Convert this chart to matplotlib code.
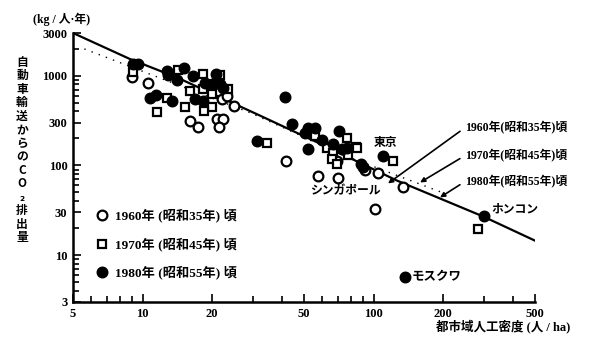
import matplotlib
matplotlib.use("Agg")
import matplotlib.pyplot as plt
from matplotlib.ticker import FixedLocator, FixedFormatter, NullFormatter

plt.rcParams['font.family'] = ['Noto Sans CJK JP', 'DejaVu Sans']

# 都市域人工密度 (人/ha) と 自動車輸送からのCO2排出量 (kg/人・年)
dens_1960 = [9.0, 10.6, 16.0, 17.4, 21.0, 22.3, 21.4, 22.1, 23.2, 24.9,
             41.8, 57.5, 70.2, 69.5, 91.8, 105, 134, 101]
co2_1960 = [973, 835, 316, 271, 332, 332, 271, 554, 599, 464,
            113, 77, 73, 113, 88, 83, 58, 33]

dens_1970 = [9.1, 12.8, 11.5, 14.3, 16.0, 15.3, 18.3, 18.3, 20.0, 20.0,
             18.5, 21.6, 23.4, 34.6, 55.8, 62.9, 66.8, 66.1, 69.5, 76.7,
             84.0, 77.5, 84.8, 121, 283]
co2_1970 = [1106, 569, 398, 1164, 680, 450, 1051, 716, 630, 445,
            410, 1024, 716, 180, 215, 158, 139, 119, 105, 204,
            162, 132, 158, 111, 19.5]

dens_1980 = [9.1, 9.55, 10.8, 11.4, 13.4, 12.8, 12.9, 14.1, 15.1, 16.5,
             18.6, 20.8, 20.0, 21.6, 16.9, 18.3, 22.3, 31.3, 41.4, 44.4,
             52.0, 55.8, 50.5, 59.8, 70.9, 66.8, 73.0, 76.7, 52.0, 88.0,
             90.0, 110, 301, 137]
co2_1980 = [1357, 1357, 569, 614, 527, 1135, 1024, 901, 1225, 998,
            835, 1051, 814, 800, 554, 527, 735, 189, 583, 292,
            264, 264, 232, 194, 245, 175, 154, 158, 152, 105,
            95, 129, 27, 5.7]

# 回帰線 (1980年頃, 実線) と 1970年頃 (点線)
line80_dens = [5, 8.8, 14.2, 32.3, 59.8, 126, 298, 500]
line80_co2 = [3000, 1542, 949, 359, 171, 68, 27, 14.5]
line70_dens = [5.6, 29.2, 79.1, 194]
line70_co2 = [1993, 388, 122, 51]

# 都市名
city_names = ['東京', 'シンガポール', 'ホンコン', 'モスクワ']
city_dens = [110, 75.2, 301, 137]
city_co2 = [129, 52.7, 27, 5.7]

year_labels = ['1960年 (昭和35年) 頃', '1970年 (昭和45年) 頃', '1980年 (昭和55年) 頃']
line_labels = ['1960年(昭和35年)頃', '1970年(昭和45年)頃', '1980年(昭和55年)頃']
line_label_pos = [(249, 264), (249, 129), (249, 66.3)]
line_arrow_tip = [(115.5, 63), (159, 64.6), (194, 44)]

x_major = [5, 10, 20, 50, 100, 200, 500]
x_minor = [6, 7, 8, 9, 30, 40, 60, 70, 80, 90, 300, 400]
y_major = [3, 10, 30, 100, 300, 1000, 3000]
y_minor = [4, 5, 6, 7, 8, 9, 20, 40, 50, 60, 70, 80, 90,
           200, 400, 500, 600, 700, 800, 900, 2000]

num_font = ['Liberation Serif', 'Noto Sans CJK JP']

fig = plt.figure(figsize=(6.0, 3.39), dpi=100)
ax = fig.add_axes([73 / 600, 37 / 339, 462 / 600, 269 / 339])
ax.set_xscale('log')
ax.set_yscale('log')
ax.set_xlim(5, 500)
ax.set_ylim(3, 3000)

for s in ['top', 'right']:
    ax.spines[s].set_visible(False)
for s in ['left', 'bottom']:
    ax.spines[s].set_linewidth(1.8)

ax.xaxis.set_major_locator(FixedLocator(x_major))
ax.xaxis.set_major_formatter(FixedFormatter([str(v) for v in x_major]))
ax.xaxis.set_minor_locator(FixedLocator(x_minor))
ax.xaxis.set_minor_formatter(NullFormatter())
ax.yaxis.set_major_locator(FixedLocator(y_major))
ax.yaxis.set_major_formatter(FixedFormatter([str(v) for v in y_major]))
ax.yaxis.set_minor_locator(FixedLocator(y_minor))
ax.yaxis.set_minor_formatter(NullFormatter())
ax.tick_params(which='both', direction='in', width=1.2, color='black')
ax.tick_params(which='major', length=6, pad=4)
ax.tick_params(which='minor', length=4)
for lab in ax.get_xticklabels() + ax.get_yticklabels():
    lab.set_fontfamily(num_font)
    lab.set_fontweight('bold')
    lab.set_fontsize(9)

ax.plot(line80_dens, line80_co2, color='black', lw=1.6, zorder=2)
ax.plot(line70_dens, line70_co2, color='black', lw=1.0, ls=(0, (1, 4.5)), zorder=1)

ms = 7.0
h60, = ax.plot(dens_1960, co2_1960, 'o', ms=ms, mfc='white', mec='black', mew=1.6,
               ls='none', zorder=3)
h70, = ax.plot(dens_1970, co2_1970, 's', ms=ms - 0.6, mfc='white', mec='black', mew=1.6,
               ls='none', zorder=4)
h80, = ax.plot(dens_1980, co2_1980, 'o', ms=ms + 0.6, mfc='black', mec='black', mew=1.0,
               ls='none', zorder=5)

leg = ax.legend([h60, h70, h80], year_labels, loc='lower left',
                bbox_to_anchor=(0.038, 0.063), frameon=False, handlelength=1.0,
                handletextpad=0.45, labelspacing=1.12, borderaxespad=0,
                prop={'family': ['Liberation Serif', 'Noto Sans CJK JP'],
                      'weight': 'bold', 'size': 9.5})

# 都市名
ax.text(city_dens[0] + 3, city_co2[0] * 1.18, city_names[0], ha='center', va='bottom',
        fontsize=8.5, fontweight='bold')
ax.text(city_dens[1], city_co2[1], city_names[1], ha='center', va='center',
        fontsize=8.5, fontweight='bold')
ax.annotate(city_names[2], (city_dens[2], city_co2[2]), xytext=(5, 5.5),
            textcoords='offset points', ha='left', va='center',
            fontsize=8.5, fontweight='bold')
ax.annotate(city_names[3], (city_dens[3], city_co2[3]), xytext=(5, 0),
            textcoords='offset points', ha='left', va='center',
            fontsize=9, fontweight='bold')

for lab, pos, tip in zip(line_labels, line_label_pos, line_arrow_tip):
    ax.annotate(lab, xy=tip, xytext=pos, ha='left', va='center',
                fontsize=8.5, fontweight='bold',
                family=['Liberation Serif', 'Noto Sans CJK JP'],
                arrowprops=dict(arrowstyle='-|>', color='black', lw=1.2,
                                mutation_scale=7, relpos=(0, 0.5),
                                shrinkA=2, shrinkB=0),
                zorder=6)

# 軸ラベル
fig.text(33 / 600, 1 - 19 / 339, '(kg / 人·年)', ha='left', va='center',
         fontsize=8.5, fontweight='bold',
         family=['Liberation Serif', 'Noto Sans CJK JP'])
chars = list('自動車輸送からの') + ['C', 'O', '₂'] + list('排出量')
fig.text(22 / 600, 1 - 150 / 339, '\n'.join(chars), ha='center', va='center',
         fontsize=8.5, fontweight='bold', linespacing=1.05,
         family=['Noto Sans CJK JP', 'DejaVu Sans'])
fig.text(570 / 600, 1 - 326 / 339, '都市域人工密度 (人 / ha)', ha='right', va='center',
         fontsize=9, fontweight='bold',
         family=['Liberation Serif', 'Noto Sans CJK JP'])

fig.savefig('out.png', dpi=100, facecolor='white')
